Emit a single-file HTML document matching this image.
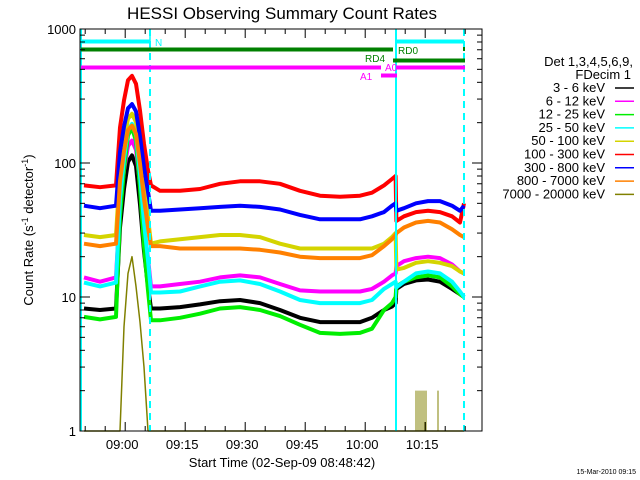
<!DOCTYPE html>
<html><head><meta charset="utf-8"><style>
html,body{margin:0;padding:0;background:#fff;}
svg{display:block;font-family:"Liberation Sans",sans-serif;}
</style></head><body>
<svg id="chart" width="640" height="480" viewBox="0 0 640 480">
<rect x="0" y="0" width="640" height="480" fill="#fff"/>
<text x="282" y="19" font-size="17" text-anchor="middle">HESSI Observing Summary Count Rates</text>
<g id="plot"></g>
<g id="axes"></g>
<text x="282" y="467" font-size="13" text-anchor="middle">Start Time (02-Sep-09 08:48:42)</text>
<text transform="translate(33,230) rotate(-90)" font-size="13" text-anchor="middle">Count Rate (s<tspan dy="-5" font-size="9">-1</tspan><tspan dy="5"> detector</tspan><tspan dy="-5" font-size="9">-1</tspan><tspan dy="5">)</tspan></text>
<text x="636" y="474" font-size="7" text-anchor="end">15-Mar-2010 09:15</text>
<g id="legend">
<text x="633" y="66" font-size="13" text-anchor="end">Det 1,3,4,5,6,9,</text>
<text x="631" y="79" font-size="13" text-anchor="end">FDecim 1</text>
</g>
</svg>
<script>
const times = [1,5,9,10,11,12,13,14,15,16,17,17.75,20,25,30,35,40,45,50,55,60,65,70,73,76,78,78.9,79.1,81,84,87,90,93,95,96];
const labels = ["3 - 6 keV","6 - 12 keV","12 - 25 keV","25 - 50 keV","50 - 100 keV","100 - 300 keV","300 - 800 keV","800 - 7000 keV","7000 - 20000 keV"];
const colors = ["#000000","#ff00ff","#00ee00","#00ffff","#d4d400","#ff0000","#0000ff","#ff8000","#808000"];
const s3_6 = [8.2,8,8.2,33,64,102,114,95,49,22,11.9,8.2,8.2,8.4,8.8,9.3,9.5,9,8,7,6.5,6.5,6.5,7,8,8.5,9,11.5,12.5,13.3,13.5,13,11.5,10.5,10];
const s6_12 = [14,13,14,49,88,134,147,125,69,34,19.5,12,12,12.5,13,14,14.5,14,12.5,11.2,11,11,11,11.5,13,14.5,15,17,18.5,19.5,20,19.5,17.5,15.5,15];
const s12_25 = [7.1,6.8,7.1,40,89,161,183,146,65,24,11.2,6.7,6.7,7,7.5,8.2,8.4,8,7.2,6.2,5.4,5.3,5.4,5.8,8,9,10,12,13,14,14.5,14,12,10.5,10];
const s25_50 = [12.8,12,12.8,54,107,176,196,162,82,36,18.8,10.8,10.8,11,12,13,13.3,12.5,11,9.5,9,9,9,9.5,11.5,12.5,13,11.8,13,15,15.5,15,13,11,10];
const s50_100 = [29,28,29,88,147,214,233,202,120,64,39,25,26,27,28,29,29,28,25,23,23,23,23,23,25,28,30,16,16.5,18,18.5,18,17,15.5,15];
const s100_300 = [68,66,68,184,293,415,447,390,246,139,88,68,62,62,64,70,73,73,70,62,57,56,57,60,68,76,80,37,40,43,44,43,40,36,50];
const s300_800 = [48,46,48,121,187,256,275,243,157,93,61,44,44,45,46,47,48,47,45,41,38,38,38,40,43,48,50,44,46,50,52,52,48,44,48];
const s800_7000 = [25,24,25,73,122,176,190,165,99,54,33,24,24,23,23,23,23,22.5,21.5,20,19.5,19.5,19.5,20.5,24,27,29,30,33,36,37,36,32,29,28];
const s7000_20000 = [0.5,0.5,0.5,1,6,15,20,12,6.5,3,0.5,0.5,0.5,0.5,0.5,0.5,0.5,0.5,0.5,0.5,0.5,0.5,0.5,0.5,0.5,0.5,0.5,0.5,0.5,0.5,0.5,0.5,0.5,0.5,0.5];
const spikeTimes = [84,84.5,85,85.5,86,86.5,89.5];
const spikeValues = [2,2,2,2,2,2,2];
const seriesNames = ["series-3-6-kev","series-6-12-kev","series-12-25-kev","series-25-50-kev","series-50-100-kev","series-100-300-kev","series-300-800-kev","series-800-7000-kev","series-7000-20000-kev"];
const yTicks = [1,10,100,1000];
const yTickLabels = ["1","10","100","1000"];
const xTickMinutes = [11.3,26.3,41.3,56.3,71.3,86.3];
const xTickLabels = ["09:00","09:15","09:30","09:45","10:00","10:15"];

const NS="http://www.w3.org/2000/svg";
const X0=80,X1=482,Y0=29,Y1=431;
function xs(t){return X0+4*t;}
function ys(v){const y=Y1-134*Math.log10(v);return Math.min(Y1,Math.max(Y0,y));}
function mk(tag,attrs,parent){const e=document.createElementNS(NS,tag);for(const k in attrs)e.setAttribute(k,attrs[k]);parent.appendChild(e);return e;}
const plot=document.getElementById('plot'), axes=document.getElementById('axes'), legend=document.getElementById('legend');

const all=[s3_6,s6_12,s12_25,s25_50,s50_100,s100_300,s300_800,s800_7000,s7000_20000];
all.forEach((s,i)=>{
  const pts=times.map((t,j)=>xs(t).toFixed(1)+","+ys(s[j]).toFixed(1)).join(" ");
  const pl=mk('polyline',{points:pts,fill:'none',stroke:colors[i],'stroke-width':i==8?1.5:4,'stroke-linejoin':'round'},plot);
  
  
});
spikeTimes.forEach((t,j)=>{
  const l=mk('line',{x1:xs(t),x2:xs(t),y1:Y1,y2:ys(spikeValues[j]),stroke:'#808000','stroke-width':1},plot);
  
  
});

[[81,false],[396,false],[150,true],[464,true]].forEach(([x,d])=>{
  const l=mk('line',{x1:x,x2:x,y1:Y0,y2:Y1,stroke:'#00ffff','stroke-width':2},plot);
  if(d) l.setAttribute('stroke-dasharray','7,5');
  
  
});
const bars=[[81,150,41,'#00ffff','night-bar'],[396,464,41,'#00ffff','night-bar-2'],[81,393,49,'#008000','rd0-bar'],[393,465,60,'#008000','rd4-bar'],[81,381,67,'#ff00ff','a0-bar'],[396,465,67,'#ff00ff','a0-bar-2'],[381,397,75,'#ff00ff','a1-bar']];
bars.forEach(b=>{
  const r=mk('rect',{x:b[0],y:b[2]-1.5,width:b[1]-b[0],height:4,fill:b[3]},plot);
  
  
});
mk('rect',{x:463,y:47,width:2,height:4,fill:'#008000'},plot);
mk('line',{x1:150,x2:150,y1:36,y2:46,stroke:'#00ffff','stroke-width':1.5},plot);
const stxt=[[155,46,'N','#00ffff'],[398,54,'RD0','#008000'],[365,62,'RD4','#008000'],[385,71,'A0','#ff00ff'],[360,80,'A1','#ff00ff']];
stxt.forEach(s=>{
  const t=mk('text',{x:s[0],y:s[1],fill:s[3],'font-size':10},plot);
  t.textContent=s[2];
  
  
});

const fr=mk('rect',{x:X0,y:Y0,width:X1-X0,height:Y1-Y0,fill:'none',stroke:'#000','stroke-width':1},axes);


for(let d=0;d<3;d++){for(let m=1;m<10;m++){const v=Math.pow(10,d)*m;const y=ys(v);const len=m==1?10:5;
  mk('line',{x1:X0,x2:X0+len,y1:y,y2:y,stroke:'#000'},axes);mk('line',{x1:X1,x2:X1-len,y1:y,y2:y,stroke:'#000'},axes);}}
mk('line',{x1:X0,x2:X0+10,y1:Y0,y2:Y0,stroke:'#000'},axes);
yTicks.forEach((v,i)=>{const t=mk('text',{x:76,y:ys(v)+5,'font-size':13,'text-anchor':'end'},axes);t.textContent=yTickLabels[i];
  
  });
for(let t=1.3;t<100.5;t+=5){const x=xs(t);const major=xTickMinutes.some(m=>Math.abs(m-t)<0.1);const len=major?9:5;
  mk('line',{x1:x,x2:x,y1:Y1,y2:Y1-len,stroke:'#000'},axes);mk('line',{x1:x,x2:x,y1:Y0,y2:Y0+len,stroke:'#000'},axes);}
xTickMinutes.forEach((m,i)=>{const t=mk('text',{x:xs(m)-3,y:449,'font-size':13,'text-anchor':'middle'},axes);t.textContent=xTickLabels[i];
  
  });
labels.forEach((lb,i)=>{const y=92+13.3*i;
  const t=mk('text',{x:605,y:y,'font-size':13,'text-anchor':'end'},legend);t.textContent=lb;
  
  
  const l=mk('line',{x1:615,x2:634,y1:y-4,y2:y-4,stroke:colors[i],'stroke-width':1.5},legend);
  
  
});
</script>
</body></html>
